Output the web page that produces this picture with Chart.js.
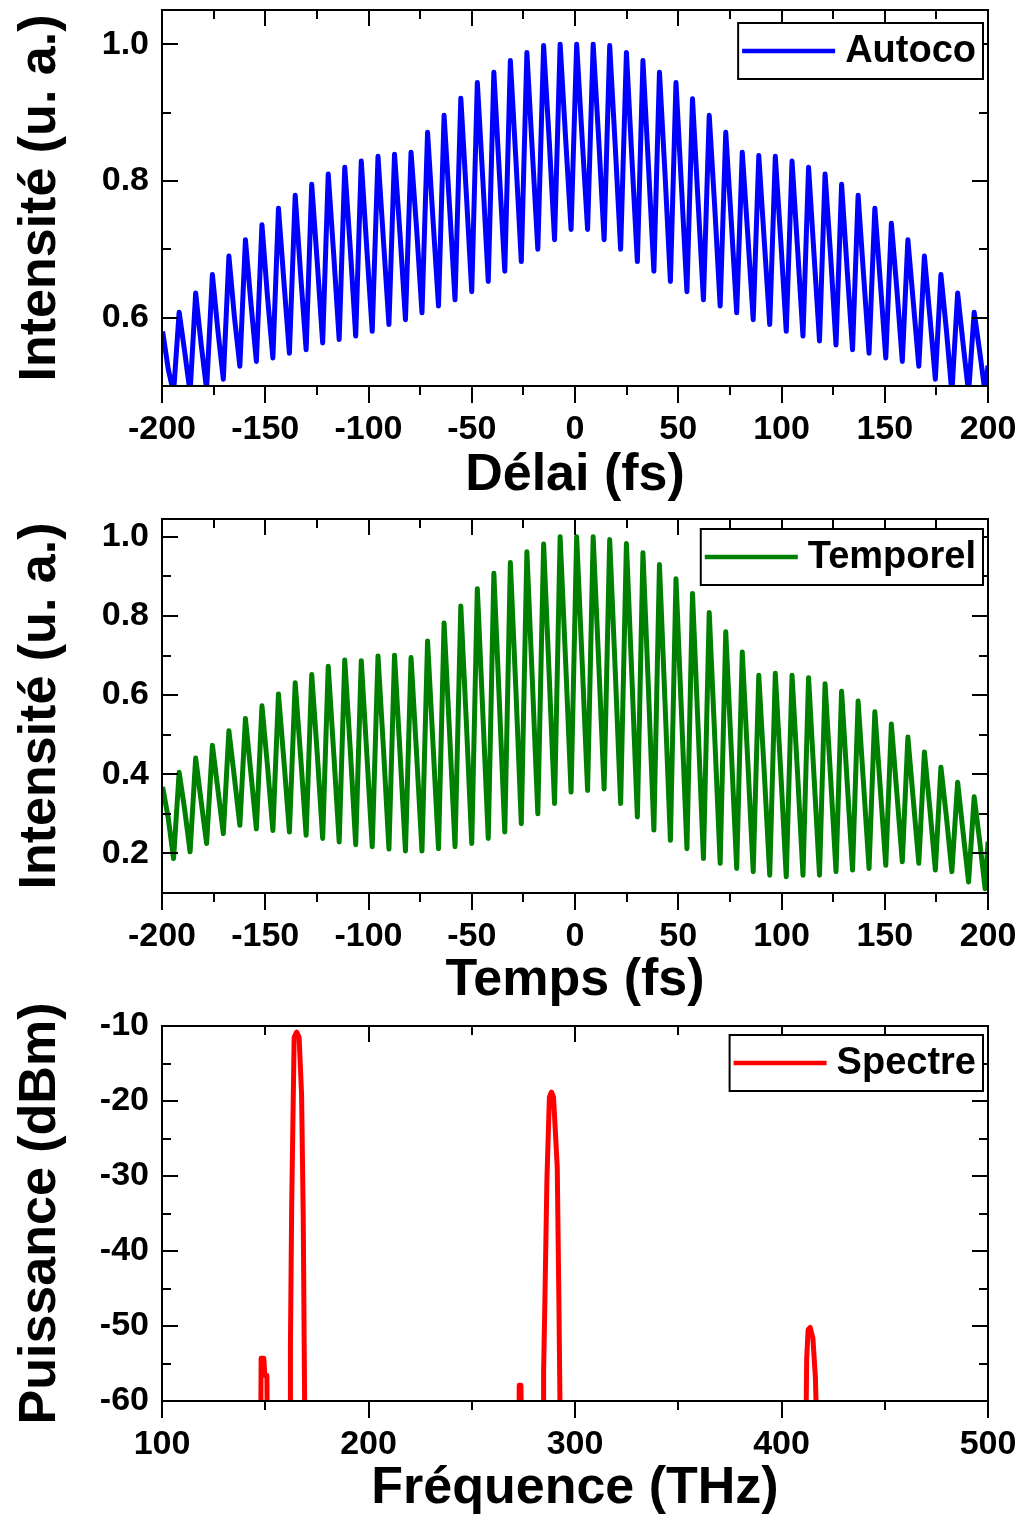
<!DOCTYPE html>
<html>
<head>
<meta charset="utf-8">
<script src="https://cdn.jsdelivr.net/npm/chart.js"></script>
<style>
html, body { margin: 0; padding: 0; background: #fff; overflow: hidden; }
canvas { position: absolute; left: 0; }
</style>
</head>
<body>
<canvas id="c1" width="1019" height="510" style="top:0px"></canvas>
<canvas id="c2" width="1019" height="507" style="top:510px"></canvas>
<canvas id="c3" width="1019" height="562" style="top:955px"></canvas>
<script>
// ---------------- DATA ----------------
// Sample delays / times (fs): for each fringe, peak, falling shoulder, trough
const delayFs = [
  -199.7, -197.0, -194.4,  -191.7, -189.0, -186.4,  -183.7, -181.0, -178.4,
  -175.6, -172.9, -170.3,  -167.6, -164.9, -162.3,  -159.6, -156.9, -154.3,
  -151.6, -148.9, -146.3,  -143.6, -140.9, -138.3,  -135.5, -132.8, -130.2,
  -127.5, -124.8, -122.2,  -119.5, -116.8, -114.2,  -111.5, -108.8, -106.2,
  -103.5, -100.8, -98.2,   -95.4, -92.7, -90.1,     -87.4, -84.7, -82.1,
  -79.4, -76.7, -74.1,     -71.4, -68.7, -66.1,     -63.4, -60.7, -58.1,
  -55.3, -52.6, -50.0,     -47.3, -44.6, -42.0,     -39.3, -36.6, -34.0,
  -31.3, -28.6, -26.0,     -23.3, -20.6, -18.0,     -15.2, -12.5, -9.9,
  -7.2, -4.5, -1.9,        0.8, 3.5, 6.1,           8.8, 11.5, 14.1,
  16.8, 19.5, 22.1,        24.9, 27.6, 30.2,        32.9, 35.6, 38.2,
  40.9, 43.6, 46.2,        48.9, 51.6, 54.2,        56.9, 59.6, 62.2,
  65.0, 67.7, 70.3,        73.0, 75.7, 78.3,        81.0, 83.7, 86.3,
  89.0, 91.7, 94.3,        97.0, 99.7, 102.3,       105.1, 107.8, 110.4,
  113.1, 115.8, 118.4,     121.1, 123.8, 126.4,     129.1, 131.8, 134.4,
  137.1, 139.8, 142.4,     145.2, 147.9, 150.5,     153.2, 155.9, 158.5,
  161.2, 163.9, 166.5,     169.2, 171.9, 174.5,     177.2, 179.9, 182.5,
  185.3, 188.0, 190.6,     193.3, 196.0, 198.6,     200.0
];

const autocoIntensity = [
  0.580, 0.525, 0.490,  0.608, 0.550, 0.490,  0.636, 0.560, 0.495,
  0.663, 0.580, 0.510,  0.690, 0.600, 0.529,  0.714, 0.620, 0.536,
  0.736, 0.630, 0.541,  0.760, 0.650, 0.548,  0.779, 0.660, 0.553,
  0.795, 0.680, 0.563,  0.810, 0.690, 0.568,  0.820, 0.700, 0.573,
  0.829, 0.700, 0.580,  0.836, 0.710, 0.590,  0.839, 0.720, 0.597,
  0.842, 0.730, 0.607,  0.871, 0.740, 0.617,  0.896, 0.760, 0.626,
  0.921, 0.780, 0.638,  0.944, 0.800, 0.653,  0.959, 0.810, 0.668,
  0.976, 0.830, 0.682,  0.988, 0.840, 0.700,  0.998, 0.860, 0.714,
  1.000, 0.860, 0.729,  1.000, 0.860, 0.729,  1.000, 0.860, 0.714,
  0.998, 0.850, 0.700,  0.988, 0.830, 0.682,  0.976, 0.820, 0.668,
  0.959, 0.810, 0.653,  0.944, 0.790, 0.638,  0.920, 0.770, 0.626,
  0.896, 0.760, 0.617,  0.871, 0.740, 0.607,  0.842, 0.720, 0.597,
  0.837, 0.710, 0.590,  0.836, 0.710, 0.580,  0.829, 0.700, 0.573,
  0.820, 0.690, 0.566,  0.810, 0.690, 0.560,  0.795, 0.670, 0.553,
  0.779, 0.660, 0.548,  0.760, 0.650, 0.541,  0.738, 0.640, 0.536,
  0.714, 0.620, 0.529,  0.690, 0.600, 0.510,  0.663, 0.580, 0.490,
  0.636, 0.560, 0.490,  0.608, 0.550, 0.490,  0.530
];

const temporelIntensity = [
  0.368, 0.29, 0.187,  0.405, 0.31, 0.204,  0.441, 0.33, 0.225,
  0.473, 0.36, 0.250,  0.510, 0.39, 0.271,  0.541, 0.40, 0.262,
  0.573, 0.42, 0.258,  0.603, 0.43, 0.254,  0.631, 0.44, 0.246,
  0.652, 0.45, 0.238,  0.673, 0.45, 0.229,  0.689, 0.46, 0.222,
  0.687, 0.45, 0.217,  0.699, 0.46, 0.211,  0.701, 0.45, 0.206,
  0.695, 0.45, 0.206,  0.737, 0.47, 0.212,  0.782, 0.50, 0.217,
  0.825, 0.53, 0.225,  0.869, 0.55, 0.238,  0.908, 0.58, 0.254,
  0.935, 0.61, 0.275,  0.962, 0.63, 0.300,  0.982, 0.65, 0.326,
  1.000, 0.68, 0.355,  1.000, 0.68, 0.359,  1.000, 0.68, 0.363,
  0.993, 0.66, 0.326,  0.983, 0.64, 0.292,  0.960, 0.61, 0.259,
  0.930, 0.58, 0.233,  0.894, 0.55, 0.212,  0.857, 0.52, 0.187,
  0.809, 0.49, 0.175,  0.760, 0.46, 0.162,  0.709, 0.43, 0.154,
  0.650, 0.40, 0.145,  0.655, 0.40, 0.141,  0.650, 0.40, 0.145,
  0.644, 0.39, 0.145,  0.629, 0.39, 0.154,  0.610, 0.38, 0.158,
  0.585, 0.37, 0.162,  0.558, 0.36, 0.170,  0.527, 0.35, 0.179,
  0.494, 0.33, 0.175,  0.456, 0.31, 0.158,  0.418, 0.29, 0.154,
  0.380, 0.25, 0.128,  0.343, 0.23, 0.111,  0.230
];

const freqTHz = [
  100, 147.8, 148.0, 149.3, 149.8, 150.8, 151.0,
  162.0, 162.2, 162.8, 164.0, 165.2, 166.4, 167.6, 168.4, 169.2,
  272.8, 273.0, 273.8, 274.2,
  284.6, 284.8, 285.4, 286.4, 287.6, 288.6, 289.6, 290.4, 291.4, 292.2, 292.9,
  411.8, 412.2, 412.9, 413.9, 415.2, 416.4, 417.2, 500
];
const spectrePowerDbm = [
  -65, -65, -54.3, -54.3, -56.6, -56.6, -65,
  -65, -52.5, -34, -11.5, -10.8, -11.5, -19.2, -35.6, -65,
  -65, -57.9, -57.9, -65,
  -65, -56.1, -47, -30.5, -19.5, -18.8, -19.5, -23.6, -28.8, -46.5, -65,
  -65, -54.3, -50.5, -50.2, -51.6, -56.8, -65, -65
];

const seriesLabels = ['Autoco', 'Temporel', 'Spectre'];
const axisTitles = {
  delay: 'Délai (fs)',
  time: 'Temps (fs)',
  freq: 'Fréquence (THz)',
  intensity: 'Intensité (u. a.)',
  power: 'Puissance (dBm)'
};

// ---------------- STYLE / PLUGINS ----------------
const FONT = '"Liberation Sans", Arial, Helvetica, sans-serif';
Chart.defaults.font.family = FONT;
Chart.defaults.font.weight = 'bold';
Chart.defaults.color = '#000';

const frameTicks = {
  id: 'frameTicks',
  afterDraw(chart, args, o) {
    const { ctx, chartArea: a } = chart;
    const xs = chart.scales.x, ys = chart.scales.y;
    ctx.save();
    ctx.strokeStyle = '#000';
    ctx.lineWidth = 2;
    ctx.lineCap = 'butt';
    ctx.beginPath();
    for (let n = Math.ceil(xs.min / o.xMinor - 1e-9); n * o.xMinor <= xs.max + 1e-9; n++) {
      const v = n * o.xMinor;
      const major = Math.abs(v / o.xMajor - Math.round(v / o.xMajor)) < 1e-6;
      const px = Math.round(xs.getPixelForValue(v));
      const len = major ? o.major : o.minor;
      ctx.moveTo(px, a.top); ctx.lineTo(px, a.top + len);
      if (!major) { ctx.moveTo(px, a.bottom); ctx.lineTo(px, a.bottom + o.minor); }
    }
    for (let n = Math.ceil(ys.min / o.yMinor - 1e-9); n * o.yMinor <= ys.max + 1e-9; n++) {
      const v = n * o.yMinor;
      const major = Math.abs(v / o.yMajor - Math.round(v / o.yMajor)) < 1e-6;
      const py = Math.round(ys.getPixelForValue(v));
      const len = major ? o.major : o.minor;
      ctx.moveTo(a.left, py); ctx.lineTo(a.left + len, py);
      ctx.moveTo(a.right, py); ctx.lineTo(a.right - len, py);
    }
    ctx.stroke();
    ctx.strokeRect(a.left, a.top, a.right - a.left, a.bottom - a.top);
    ctx.restore();
  }
};

const boxLegend = {
  id: 'boxLegend',
  afterDraw(chart, args, o) {
    const ds = chart.data.datasets[0];
    const { ctx, chartArea: a } = chart;
    ctx.save();
    ctx.font = 'bold 38px ' + FONT;
    const tw = ctx.measureText(ds.label).width;
    const right = a.right - 5, top = a.top + o.offset, h = 56;
    const textRight = right - 7, textLeft = textRight - tw;
    const lineR = textLeft - 10, lineL = lineR - 93;
    const left = lineL - 4;
    ctx.fillStyle = '#fff';
    ctx.fillRect(left, top, right - left, h);
    ctx.strokeStyle = '#000';
    ctx.lineWidth = 2;
    ctx.strokeRect(left, top, right - left, h);
    ctx.strokeStyle = ds.borderColor;
    ctx.lineWidth = 4.5;
    ctx.beginPath();
    ctx.moveTo(lineL, top + h / 2); ctx.lineTo(lineR, top + h / 2);
    ctx.stroke();
    ctx.fillStyle = '#000';
    ctx.textBaseline = 'middle';
    ctx.textAlign = 'left';
    ctx.fillText(ds.label, textLeft, top + h / 2 + 1);
    ctx.restore();
  }
};

function makePanel(id, c) {
  return new Chart(document.getElementById(id), {
    type: 'line',
    data: {
      datasets: [{
        label: c.label,
        data: c.xs.map((x, i) => ({ x: x, y: c.ys[i] })),
        borderColor: c.color,
        backgroundColor: c.color,
        borderWidth: 5,
        borderJoinStyle: 'round',
        pointRadius: 0,
        tension: 0,
        fill: false
      }]
    },
    options: {
      responsive: false,
      animation: false,
      events: [],
      layout: { padding: { top: c.padTop, right: 31, left: 0, bottom: 0 } },
      plugins: {
        legend: { display: false },
        tooltip: { enabled: false },
        frameTicks: { xMajor: c.xStep, xMinor: c.xStep / 2, yMajor: c.yStep, yMinor: c.yStep / 2, major: 16, minor: 9 },
        boxLegend: { offset: c.legendOffset }
      },
      scales: {
        x: {
          type: 'linear', position: 'bottom', min: c.xMin, max: c.xMax,
          afterFit: s => { s.height = c.xHeight; s.paddingLeft = 0; s.paddingRight = 0; },
          ticks: {
            stepSize: c.xStep, includeBounds: false, autoSkip: false, maxRotation: 0, minRotation: 0,
            padding: 6, color: '#000', font: { size: 34, weight: 'bold' },
            callback: v => String(v)
          },
          grid: { display: true, drawOnChartArea: false, drawTicks: true, tickLength: 17, color: '#000', lineWidth: 2 },
          border: { display: true, color: '#000', width: 2 },
          title: {
            display: true, text: c.xTitle, color: '#000',
            font: { size: 52, weight: 'bold', lineHeight: 1 },
            padding: { top: 0, bottom: c.xTitlePad }
          }
        },
        y: {
          type: 'linear', position: 'left', min: c.yMin, max: c.yMax,
          afterFit: s => { s.width = 162; s.paddingTop = 0; s.paddingBottom = 0; },
          ticks: {
            stepSize: c.yStep, includeBounds: false, padding: 13, color: '#000',
            font: { size: 34, weight: 'bold' },
            callback: c.yFmt
          },
          grid: { display: false, drawTicks: false },
          border: { display: true, color: '#000', width: 2 },
          title: {
            display: true, text: c.yTitle, color: '#000',
            font: { size: 52, weight: 'bold', lineHeight: 1 },
            padding: { top: 15, bottom: 0 }
          }
        }
      }
    },
    plugins: [frameTicks, boxLegend]
  });
}

makePanel('c1', {
  label: seriesLabels[0], xs: delayFs, ys: autocoIntensity, color: '#0000ff',
  padTop: 10, xHeight: 124, xMin: -200, xMax: 200, xStep: 50, xTitle: axisTitles.delay, xTitlePad: 8,
  yMin: 0.5, yMax: 1.05, yStep: 0.2, yTitle: axisTitles.intensity, yFmt: v => v.toFixed(1),
  legendOffset: 13
});
makePanel('c2', {
  label: seriesLabels[1], xs: delayFs, ys: temporelIntensity, color: '#008000',
  padTop: 9, xHeight: 124, xMin: -200, xMax: 200, xStep: 50, xTitle: axisTitles.time, xTitlePad: 10,
  yMin: 0.1, yMax: 1.045, yStep: 0.2, yTitle: axisTitles.intensity, yFmt: v => v.toFixed(1),
  legendOffset: 10
});
makePanel('c3', {
  label: seriesLabels[2], xs: freqTHz, ys: spectrePowerDbm, color: '#ff0000',
  padTop: 71, xHeight: 116, xMin: 100, xMax: 500, xStep: 100, xTitle: axisTitles.freq, xTitlePad: 2,
  yMin: -60, yMax: -10, yStep: 10, yTitle: axisTitles.power, yFmt: v => String(Math.round(v)),
  legendOffset: 9
});
</script>
</body>
</html>
